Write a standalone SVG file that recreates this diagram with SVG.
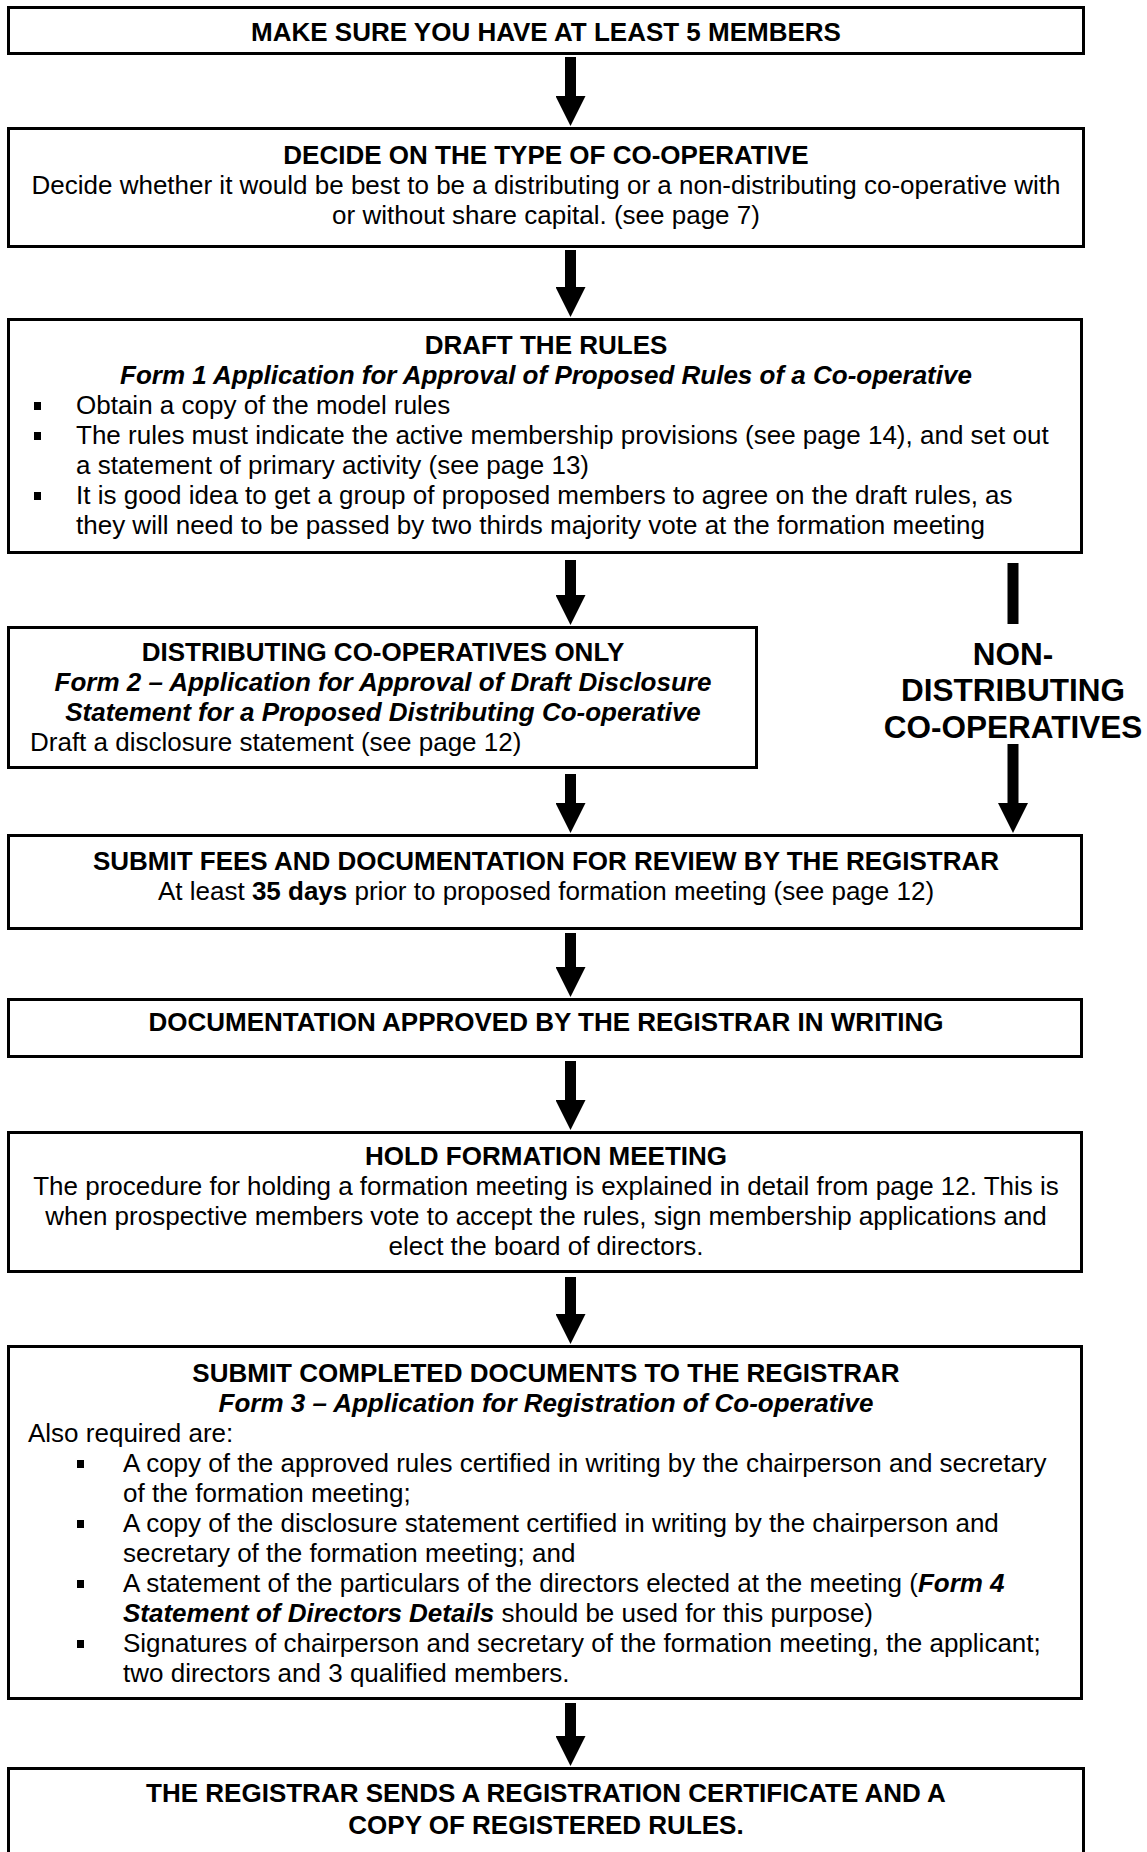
<svg xmlns="http://www.w3.org/2000/svg" width="1147" height="1852" viewBox="0 0 1147 1852">
<style>
  .box { fill: #fff; stroke: #000; stroke-width: 3; }
  text { font-family: "Liberation Sans", Arial, sans-serif; font-size: 26px; fill: #000; }
  .c { text-anchor: middle; }
  .b { font-weight: bold; }
  .bi { font-weight: bold; font-style: italic; }
  .big { font-size: 31.5px; font-weight: bold; text-anchor: middle; }
  .conn { stroke: #000; stroke-width: 11; fill: none; }
  .bul { fill: #000; }
</style>
<defs>
  <marker id="ah" viewBox="0 0 30 30" refX="0" refY="15" markerWidth="30" markerHeight="30" markerUnits="userSpaceOnUse" orient="auto">
    <path d="M0,0 L30,15 L0,30 Z" fill="#000"/>
  </marker>
</defs>
<rect width="1147" height="1852" fill="#fff"/>

<g id="connectors">
  <line class="conn" x1="570.5" y1="57" x2="570.5" y2="96" marker-end="url(#ah)"/>
  <line class="conn" x1="570.5" y1="250" x2="570.5" y2="287" marker-end="url(#ah)"/>
  <line class="conn" x1="570.5" y1="560" x2="570.5" y2="595" marker-end="url(#ah)"/>
  <line class="conn" x1="1013" y1="563" x2="1013" y2="624"/>
  <line class="conn" x1="570.5" y1="774" x2="570.5" y2="803" marker-end="url(#ah)"/>
  <line class="conn" x1="1013" y1="744" x2="1013" y2="803" marker-end="url(#ah)"/>
  <line class="conn" x1="570.5" y1="933" x2="570.5" y2="967" marker-end="url(#ah)"/>
  <line class="conn" x1="570.5" y1="1061" x2="570.5" y2="1100" marker-end="url(#ah)"/>
  <line class="conn" x1="570.5" y1="1277" x2="570.5" y2="1314" marker-end="url(#ah)"/>
  <line class="conn" x1="570.5" y1="1703" x2="570.5" y2="1736" marker-end="url(#ah)"/>
</g>

<g id="members">
  <rect class="box" x="8.5" y="7.5" width="1075" height="46"/>
  <text class="c b" x="546" y="41">MAKE SURE YOU HAVE AT LEAST 5 MEMBERS</text>
</g>

<g id="decide-type">
  <rect class="box" x="8.5" y="128.5" width="1075" height="118"/>
  <text class="c b" x="546" y="164">DECIDE ON THE TYPE OF CO-OPERATIVE</text>
  <text class="c" x="546" y="194">Decide whether it would be best to be a distributing or a non-distributing co-operative with</text>
  <text class="c" x="546" y="224">or without share capital. (see page 7)</text>
</g>

<g id="draft-rules">
  <rect class="box" x="8.5" y="319.5" width="1073" height="233"/>
  <text class="c b" x="546" y="354">DRAFT THE RULES</text>
  <text class="c bi" x="546" y="384">Form 1 Application for Approval of Proposed Rules of a Co-operative</text>
  <rect class="bul" x="34" y="402" width="7" height="8"/>
  <text x="76" y="414">Obtain a copy of the model rules</text>
  <rect class="bul" x="34" y="432" width="7" height="8"/>
  <text x="76" y="444">The rules must indicate the active membership provisions (see page 14), and set out</text>
  <text x="76" y="474">a statement of primary activity (see page 13)</text>
  <rect class="bul" x="34" y="492" width="7" height="8"/>
  <text x="76" y="504">It is good idea to get a group of proposed members to agree on the draft rules, as</text>
  <text x="76" y="534">they will need to be passed by two thirds majority vote at the formation meeting</text>
</g>

<g id="distributing">
  <rect class="box" x="8.5" y="627.5" width="748" height="140"/>
  <text class="c b" x="383" y="661">DISTRIBUTING CO-OPERATIVES ONLY</text>
  <text class="c bi" x="383" y="691">Form 2 – Application for Approval of Draft Disclosure</text>
  <text class="c bi" x="383" y="721">Statement for a Proposed Distributing Co-operative</text>
  <text x="30" y="751">Draft a disclosure statement (see page 12)</text>
</g>

<g id="non-distributing">
  <text class="big" x="1013" y="665">NON-</text>
  <text class="big" x="1013" y="701">DISTRIBUTING</text>
  <text class="big" x="1013" y="738">CO-OPERATIVES</text>
</g>

<g id="submit-fees">
  <rect class="box" x="8.5" y="835.5" width="1073" height="93"/>
  <text class="c b" x="546" y="870">SUBMIT FEES AND DOCUMENTATION FOR REVIEW BY THE REGISTRAR</text>
  <text class="c" x="546" y="900">At least <tspan class="b">35 days</tspan> prior to proposed formation meeting (see page 12)</text>
</g>

<g id="approved">
  <rect class="box" x="8.5" y="999.5" width="1073" height="57"/>
  <text class="c b" x="546" y="1031">DOCUMENTATION APPROVED BY THE REGISTRAR IN WRITING</text>
</g>

<g id="formation-meeting">
  <rect class="box" x="8.5" y="1132.5" width="1073" height="139"/>
  <text class="c b" x="546" y="1165">HOLD FORMATION MEETING</text>
  <text class="c" x="546" y="1195">The procedure for holding a formation meeting is explained in detail from page 12. This is</text>
  <text class="c" x="546" y="1225">when prospective members vote to accept the rules, sign membership applications and</text>
  <text class="c" x="546" y="1255">elect the board of directors.</text>
</g>

<g id="submit-completed">
  <rect class="box" x="8.5" y="1346.5" width="1073" height="352"/>
  <text class="c b" x="546" y="1382">SUBMIT COMPLETED DOCUMENTS TO THE REGISTRAR</text>
  <text class="c bi" x="546" y="1412">Form 3 – Application for Registration of Co-operative</text>
  <text x="28" y="1442">Also required are:</text>
  <rect class="bul" x="77" y="1460" width="7" height="8"/>
  <text x="123" y="1472">A copy of the approved rules certified in writing by the chairperson and secretary</text>
  <text x="123" y="1502">of the formation meeting;</text>
  <rect class="bul" x="77" y="1520" width="7" height="8"/>
  <text x="123" y="1532">A copy of the disclosure statement certified in writing by the chairperson and</text>
  <text x="123" y="1562">secretary of the formation meeting; and</text>
  <rect class="bul" x="77" y="1580" width="7" height="8"/>
  <text x="123" y="1592">A statement of the particulars of the directors elected at the meeting (<tspan class="bi">Form 4</tspan></text>
  <text x="123" y="1622"><tspan class="bi">Statement of Directors Details</tspan> should be used for this purpose)</text>
  <rect class="bul" x="77" y="1640" width="7" height="8"/>
  <text x="123" y="1652">Signatures of chairperson and secretary of the formation meeting, the applicant;</text>
  <text x="123" y="1682">two directors and 3 qualified members.</text>
</g>

<g id="certificate">
  <rect class="box" x="8.5" y="1768.5" width="1075" height="100"/>
  <text class="c b" x="546" y="1802">THE REGISTRAR SENDS A REGISTRATION CERTIFICATE AND A</text>
  <text class="c b" x="546" y="1834">COPY OF REGISTERED RULES.</text>
</g>
</svg>
